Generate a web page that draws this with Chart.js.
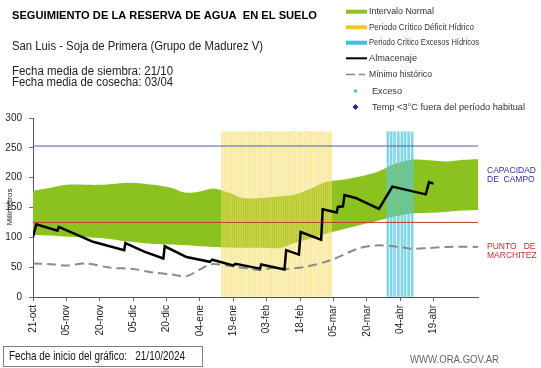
<!DOCTYPE html>
<html>
<head>
<meta charset="utf-8">
<script src="https://cdn.jsdelivr.net/npm/chart.js@4"></script>
<style>
  html, body { margin: 0; padding: 0; background: #fff; }
  #wrap { position: relative; width: 541px; height: 368px; }
</style>
</head>
<body>
<div id="wrap"><canvas id="reservaChart" width="541" height="368"></canvas></div>
<script>
// eje x: dias desde el 21/10/2024
const xLabels = ["21-oct", "05-nov", "20-nov", "05-dic", "20-dic", "04-ene", "19-ene", "03-feb", "18-feb", "05-mar", "20-mar", "04-abr", "19-abr"];

// intervalo normal (banda verde)
const bandDays  = [0, 8, 15, 30, 44, 54, 62, 68, 75, 81, 88, 94, 102, 111, 117, 125, 132, 140, 147, 155, 162, 170, 178, 186, 193, 200];
const bandUpper = [178, 183, 188, 188, 191.5, 188, 183, 175, 177, 182, 175, 166, 166, 169, 171, 182, 193, 197, 202, 210, 222, 230, 229, 227, 230, 231];
const bandLower = [104, 103, 101, 99, 92.5, 89, 88, 87, 85, 84, 83, 82.5, 82.5, 82, 90, 98, 106.6, 114, 120.6, 128, 134.5, 140, 141, 143, 145, 146];

// almacenaje
const storeDays   = [0, 1.5, 11, 11.6, 27, 41, 41.5, 50, 58.6, 59.2, 69, 79.5, 80.5, 90, 91, 102, 102.6, 113, 113.8, 119.5, 120.3, 129.5, 130.2, 136.5, 137, 139.3, 140, 145, 155.5, 161.5, 176.5, 178, 180];
const storeValues = [101, 122, 111, 117.5, 92.5, 78.5, 90.5, 76, 64.5, 85, 67, 59, 62.5, 53, 55.5, 47.5, 54.5, 46, 78.5, 71, 109, 96, 147, 141.5, 151, 152, 171, 166, 147.5, 185, 172, 192.5, 190];

// minimo historico
const minDays   = [0, 8, 15, 24, 35, 45, 54, 62, 69, 75, 80, 90, 96, 102, 108, 113, 123, 134, 146, 154, 162, 170, 178, 186, 200];
const minValues = [56, 55, 53, 56, 49, 47, 41, 38, 35, 46, 55, 51, 48, 45, 49, 47, 51, 62, 81, 86.5, 85, 81, 82, 84, 84];

// periodos criticos
const deficitDays = [85, 86, 87, 88, 89, 90, 91, 92, 93, 94, 95, 96, 97, 98, 99, 100, 101, 102, 103, 104, 105, 106, 107, 108, 109, 110, 111, 112, 113, 114, 115, 116, 117, 118, 119, 120, 121, 122, 123, 124, 125, 126, 127, 128, 129, 130, 131, 132, 133, 134];
const excessDays  = [159.5, 161, 162.5, 164.2, 165.8, 167.2, 168.8, 170.4];
const criticalTop = 277;

const fieldCapacity = 253;
const wiltingPoint = 125;
const xMax = 200;

const font = "'Liberation Sans', Arial, sans-serif";

const textPlugin = {
  id: "textos",
  afterDraw(chart) {
    const c = chart.ctx;
    c.save();
    c.textBaseline = "middle";
    c.fillStyle = "#000";
    c.font = "bold 11.5px " + font;
    c.fillText("SEGUIMIENTO DE LA RESERVA DE AGUA  EN EL SUELO", 12, 16, 305);
    c.font = "12px " + font;
    c.fillStyle = "#222";
    c.fillText("San Luis - Soja de Primera (Grupo de Madurez V)", 12, 47, 251);
    c.fillText("Fecha media de siembra: 21/10", 12, 72, 161);
    c.fillText("Fecha media de cosecha: 03/04", 12, 83, 161);

    // leyenda
    const lx = 346, tx = 369;
    const rows = [11.7, 27.3, 42.7, 58.3, 74.5, 91, 107];
    c.fillStyle = "#8cc21f"; c.fillRect(lx, rows[0] - 2, 21, 4);
    c.fillStyle = "#f5c518"; c.fillRect(lx, rows[1] - 2, 21, 4);
    c.fillStyle = "#3cc0e8"; c.fillRect(lx, rows[2] - 2, 21, 4);
    c.strokeStyle = "#000"; c.lineWidth = 2;
    c.beginPath(); c.moveTo(lx, rows[3]); c.lineTo(lx + 21, rows[3]); c.stroke();
    c.strokeStyle = "#888"; c.lineWidth = 1.5;
    c.beginPath(); c.moveTo(lx, rows[4]); c.lineTo(lx + 9, rows[4]); c.moveTo(lx + 13, rows[4]); c.lineTo(lx + 19, rows[4]); c.stroke();
    c.fillStyle = "#3cc0e8"; c.fillRect(lx + 8, rows[5] - 1.5, 3, 3);
    c.fillStyle = "#1a2aa0";
    c.beginPath();
    c.moveTo(lx + 9.5, rows[6] - 3); c.lineTo(lx + 12.5, rows[6]); c.lineTo(lx + 9.5, rows[6] + 3); c.lineTo(lx + 6.5, rows[6]);
    c.closePath(); c.fill();
    c.fillStyle = "#333";
    const names = ["Intervalo Normal", "Periodo Crítico Déficit Hídrico", "Periodo Crítico Excesos Hídricos", "Almacenaje", "Mínimo histórico", "Exceso", "Temp <3°C fuera del período habitual"];
    const widths = [65, 105, 110, 48, 63, 30, 153];
    const sizes = [9.5, 9, 9, 9.5, 9.5, 9.5, 9.5];
    names.forEach((n, i) => {
      c.font = sizes[i] + "px " + font;
      c.fillText(n, i < 5 ? tx : tx + 3, rows[i], widths[i]);
    });

    // etiquetas a la derecha
    c.font = "8.5px " + font;
    c.fillStyle = "#3030a8";
    c.fillText("CAPACIDAD", 487, 171);
    c.fillText("DE  CAMPO", 487, 180);
    c.fillStyle = "#c0302a";
    c.fillText("PUNTO   DE", 487, 247);
    c.fillText("MARCHITEZ", 487, 256);

    // titulo eje y
    c.save();
    c.translate(10, 207);
    c.rotate(-Math.PI / 2);
    c.textAlign = "center";
    c.fillStyle = "#222";
    c.font = "8px " + font;
    c.fillText("Milímetros", 0, 0);
    c.restore();

    // pie
    c.strokeStyle = "#8a7a7a"; c.lineWidth = 1;
    c.strokeRect(3.5, 346.5, 199, 20);
    c.fillStyle = "#111";
    c.font = "12.5px " + font;
    c.fillText("Fecha de inicio del gráfico:   21/10/2024", 9, 357, 176);
    c.fillStyle = "#666";
    c.font = "10.5px " + font;
    c.fillText("WWW.ORA.GOV.AR", 410, 360, 89);
    c.restore();
  }
};

const toPts = (xs, ys) => xs.map((x, i) => ({ x: x, y: ys[i] }));

new Chart(document.getElementById("reservaChart"), {
  type: "line",
  data: {
    datasets: [
      { label: "Intervalo inferior", data: toPts(bandDays, bandLower), borderWidth: 0, pointRadius: 0, fill: false, tension: 0.3, order: 6 },
      { label: "Intervalo Normal", data: toPts(bandDays, bandUpper), borderWidth: 0, pointRadius: 0, fill: "-1", backgroundColor: "#8cc21f", tension: 0.3, order: 5 },
      { type: "bar", label: "Periodo Crítico Déficit Hídrico", data: deficitDays.map(d => ({ x: d, y: criticalTop })), backgroundColor: "rgba(243,220,95,0.62)", barThickness: 1.2, grouped: false, order: 4 },
      { type: "bar", label: "Periodo Crítico Excesos Hídricos", data: excessDays.map(d => ({ x: d, y: criticalTop })), backgroundColor: "rgba(90,200,225,0.75)", barThickness: 2, grouped: false, order: 4 },
      { label: "Capacidad de campo", data: [{ x: 0, y: fieldCapacity }, { x: xMax, y: fieldCapacity }], borderColor: "#4a5ea8", borderWidth: 1, pointRadius: 0, order: 3 },
      { label: "Punto de marchitez", data: [{ x: 0, y: wiltingPoint }, { x: xMax, y: wiltingPoint }], borderColor: "#c0392b", borderWidth: 1, pointRadius: 0, order: 3 },
      { label: "Mínimo histórico", data: toPts(minDays, minValues), borderColor: "#8a8a8a", borderWidth: 2, borderDash: [9, 5], pointRadius: 0, tension: 0.3, order: 2 },
      { label: "Almacenaje", data: toPts(storeDays, storeValues), borderColor: "#000", borderWidth: 2.5, pointRadius: 0, tension: 0, order: 1 }
    ]
  },
  options: {
    responsive: false,
    animation: false,
    layout: { padding: { left: 0, right: 63, top: 118, bottom: 0 } },
    plugins: { legend: { display: false }, tooltip: { enabled: false } },
    scales: {
      x: {
        type: "linear", min: 0, max: xMax, offset: false,
        afterFit(s) { s.height = 71; },
        afterBuildTicks(s) { s.ticks = s.ticks.filter(t => xLabels[t.value / 15] !== undefined); },
        grid: { display: true, drawOnChartArea: false, drawTicks: true, tickLength: 4, color: "#666", offset: false },
        border: { color: "#555" },
        ticks: {
          stepSize: 15, includeBounds: false, autoSkip: false, minRotation: 90, maxRotation: 90, padding: 4,
          color: "#222", font: { family: font, size: 10 },
          callback: v => xLabels[v / 15] ?? ""
        }
      },
      y: {
        min: 0, max: 300,
        afterFit(s) { s.width = 33; },
        grid: { display: true, drawOnChartArea: false, drawTicks: true, tickLength: 4, color: "#666" },
        border: { color: "#555" },
        ticks: { stepSize: 50, padding: 7, color: "#222", font: { family: font, size: 10 } }
      }
    }
  },
  plugins: [textPlugin]
});
</script>
</body>
</html>
